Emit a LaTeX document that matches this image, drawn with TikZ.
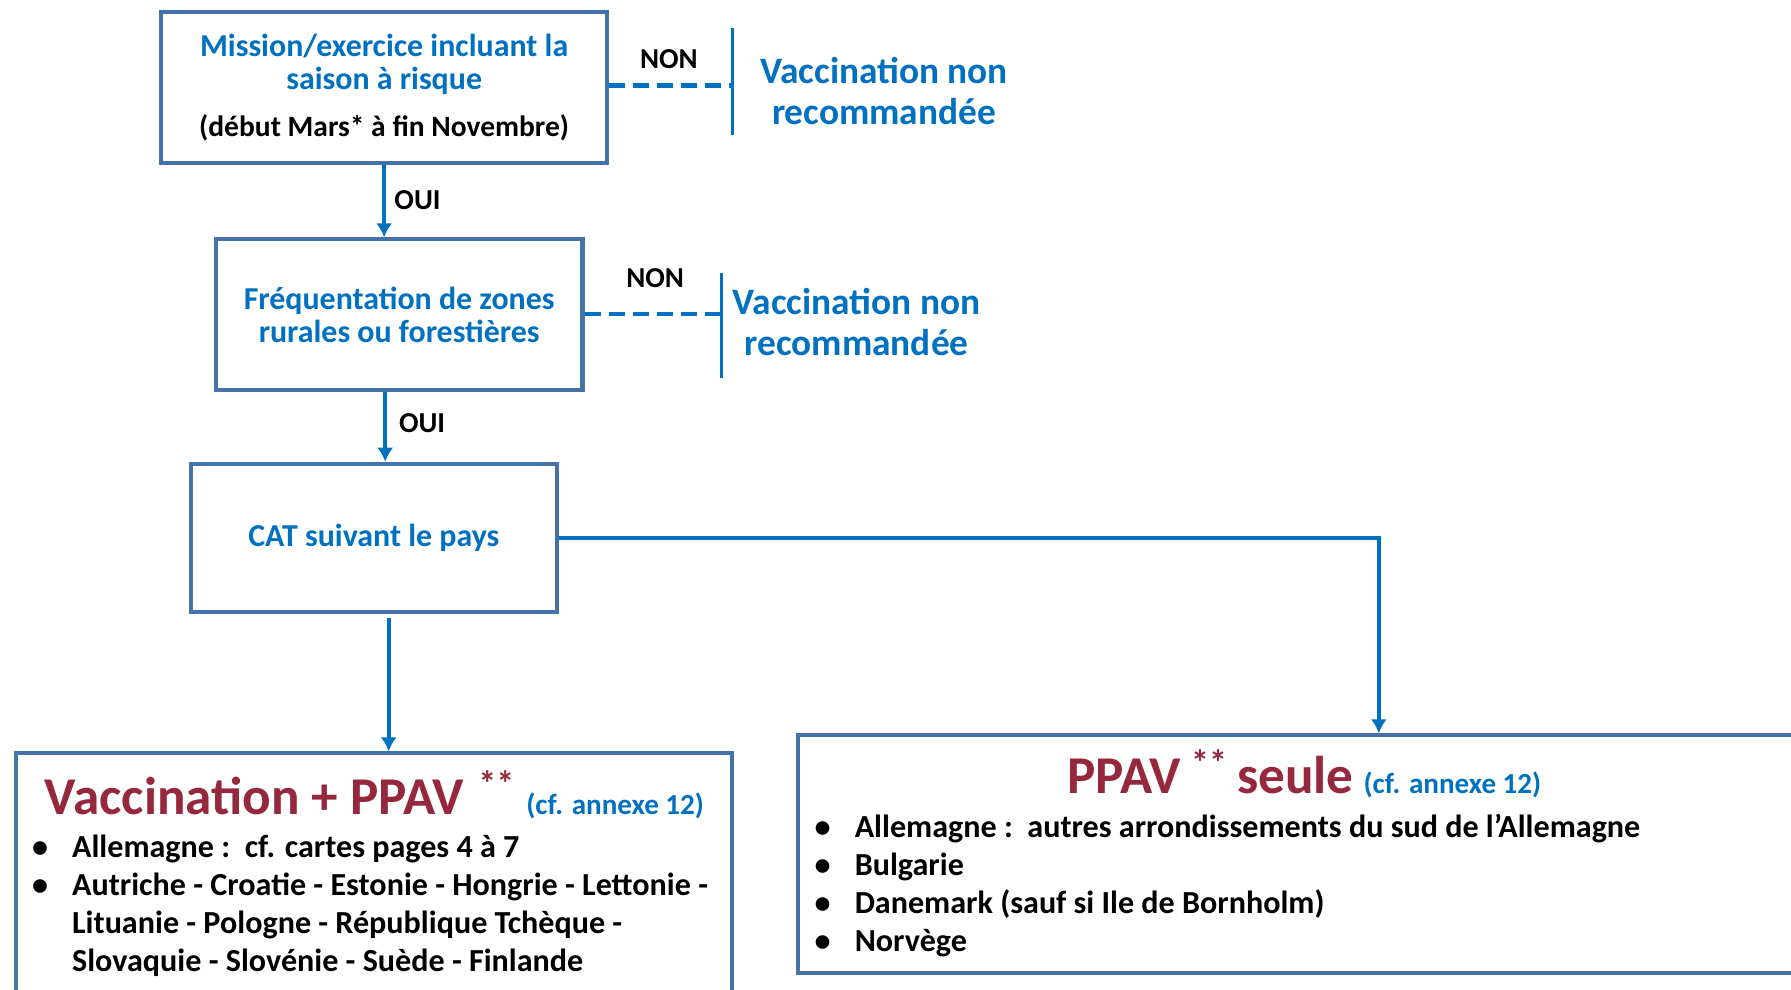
\documentclass[tikz,border=0pt]{standalone}
\usepackage{fontspec}
\setmainfont{Carlito}
\usetikzlibrary{arrows.meta}
\definecolor{boxline}{RGB}{70,114,170}
\definecolor{textblue}{RGB}{0,112,192}
\definecolor{titlered}{RGB}{149,40,60}

\begin{document}
\begin{tikzpicture}[x=0.02cm,y=-0.02cm,
  box/.style={draw=boxline, line width=2pt, inner sep=0pt, align=center,
    text=textblue, font=\bfseries\fontsize{15.9}{16.5}\selectfont},
  link/.style={draw=textblue, line width=2pt, -{Latex[length=7pt,width=8pt]}},
  nolink/.style={draw=textblue, line width=2.2pt, dash pattern=on 8pt off 4pt},
  bar/.style={draw=textblue, line width=1.4pt},
  lbl/.style={font=\bfseries\fontsize{14.4}{16}\selectfont, inner sep=0pt},
  verdict/.style={text=textblue, align=center, inner sep=0pt,
    font=\bfseries\fontsize{18.6}{20.2}\selectfont},
  item/.style={anchor=base west, inner sep=0pt, font=\bfseries\fontsize{16}{18}\selectfont}]

\useasboundingbox (0,0) rectangle (1568,866);
\clip (0,0) rectangle (1568,866);

\node[box, minimum width=7.8cm, minimum height=2.64cm] (mission) at (336.3,76.9)
  {Mission/exercice incluant la\\saison à risque\\[7pt]{\color{black}\fontsize{14.7}{16}\selectfont(début Mars* à fin Novembre)}};
\node[box, minimum width=6.42cm, minimum height=2.64cm] (zones) at (349.5,275.5)
  {Fréquentation de zones\\rurales ou forestières};
\node[box, minimum width=6.41cm, minimum height=2.6cm] (cat) at (327.3,471)
  {CAT suivant le pays};
\node[box, minimum width=12.54cm, minimum height=4.81cm] (vaccppav) at (327.5,779.8) {};
\node[box, minimum width=18.02cm, minimum height=4.17cm] (ppav) at (1149.4,748) {};

\coordinate (bar1) at (641,75);
\coordinate (bar2) at (631.5,275);
\draw[nolink] (mission.east |- bar1) -- (bar1);
\draw[bar] (641,24.8) -- (641,118);
\node[lbl, anchor=base west] (non1) at (560,59.8) {NON};
\node[verdict, anchor=base] (reco1) at (774,108.6) {Vaccination non\\recommandée};

\draw[nolink] (zones.east |- bar2) -- (bar2);
\draw[bar] (631.5,239) -- (631.5,331);
\node[lbl, anchor=base west] (non2) at (548,252) {NON};
\node[verdict, anchor=base] (reco2) at (750,311) {Vaccination non\\recommandée};

\draw[link] (mission.south) -- (mission.south |- zones.north);
\node[lbl, anchor=base west] (oui1) at (345,183.3) {OUI};
\draw[link] ([xshift=3cm]zones.south west) -- ([xshift=3cm]zones.south west |- cat.north);
\node[lbl, anchor=base west] (oui2) at (349,378.5) {OUI};

\draw[link] ([xshift=3.5cm,yshift=-2pt]cat.south west) -- ([xshift=3.5cm]cat.south west |- vaccppav.north);
\draw[link] (cat.east) -| ([xshift=10.2cm]ppav.north west);

\node[anchor=base west, inner sep=0pt, text=titlered, font=\bfseries\fontsize{26.5}{30}\selectfont] (vtitle) at (39,713)
  {Vaccination + PPAV\hspace{7pt}\raisebox{9pt}{\fontsize{18}{18}\selectfont**}\hspace{6pt}{\color{textblue}\fontsize{14.5}{16}\selectfont(cf. annexe 12)}};
\node[item] (v1) at (62.8,750.6) {\llap{\textbullet\hspace{12pt}}Allemagne :\ \ cf. cartes pages 4 à 7};
\node[item] (v2) at (62.8,784) {\llap{\textbullet\hspace{12pt}}Autriche - Croatie - Estonie - Hongrie - Lettonie -};
\node[item] (v3) at (62.8,817.4) {Lituanie - Pologne - République Tchèque -};
\node[item] (v4) at (62.8,850.7) {Slovaquie - Slovénie - Suède - Finlande};

\node[anchor=base west, inner sep=0pt, text=titlered, font=\bfseries\fontsize{26.5}{30}\selectfont] (ptitle) at (934,695)
  {PPAV\hspace{5pt}\raisebox{9pt}{\fontsize{18}{18}\selectfont**}\hspace{5pt}seule\hspace{5pt}{\color{textblue}\fontsize{14.5}{16}\selectfont(cf. annexe 12)}};
\node[item] (p1) at (748,733) {\llap{\textbullet\hspace{12pt}}Allemagne :\ \ autres arrondissements du sud de l’Allemagne};
\node[item] (p2) at (748,766.5) {\llap{\textbullet\hspace{12pt}}Bulgarie};
\node[item] (p3) at (748,800) {\llap{\textbullet\hspace{12pt}}Danemark (sauf si Ile de Bornholm)};
\node[item] (p4) at (748,833) {\llap{\textbullet\hspace{12pt}}Norvège};
\end{tikzpicture}
\end{document}
